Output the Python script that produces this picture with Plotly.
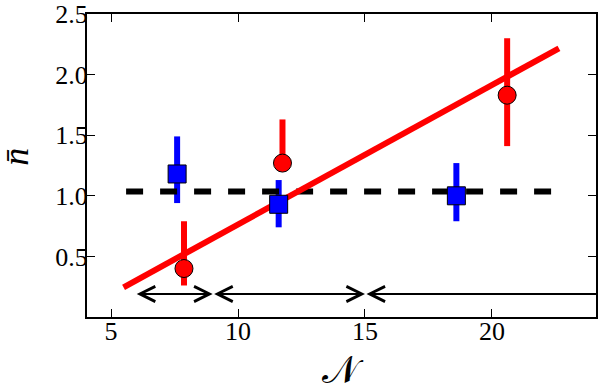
import plotly.graph_objects as go

# measured points
blue_x = [7.6, 11.6, 18.6]
blue_y = [1.18, 0.93, 1.00]
blue_up = [0.31, 0.20, 0.27]
blue_dn = [0.24, 0.19, 0.21]

red_x = [7.87, 11.75, 20.6]
red_y = [0.40, 1.27, 1.83]
red_up = [0.39, 0.36, 0.47]
red_dn = [0.14, 0.05, 0.42]

# fits
fit_x = [5.49, 22.64]
fit_y = [0.245, 2.217]
flat_x = [5.59, 22.6]
flat_y = [1.035, 1.035]

# ranges shown with arrows at the bottom
arrow_x = [5.95, 9.0, 15.0, 24.1]
arrow_y = 0.19

serif = 'Liberation Serif'
fig = go.Figure()

# error bars first so lines sit on top of them
fig.add_trace(go.Scatter(x=blue_x, y=blue_y, mode='markers', marker=dict(size=0.1, color='rgba(0,0,0,0)'),
                         error_y=dict(type='data', symmetric=False, array=blue_up, arrayminus=blue_dn,
                                      color='#0000ff', thickness=6, width=0), showlegend=False))
fig.add_trace(go.Scatter(x=red_x, y=red_y, mode='markers', marker=dict(size=0.1, color='rgba(0,0,0,0)'),
                         error_y=dict(type='data', symmetric=False, array=red_up, arrayminus=red_dn,
                                      color='#ff0000', thickness=6, width=0), showlegend=False))

fig.add_trace(go.Scatter(x=flat_x, y=flat_y, mode='lines', line=dict(color='black', width=6, dash='17px,17px'),
                         showlegend=False))
fig.add_trace(go.Scatter(x=fit_x, y=fit_y, mode='lines', line=dict(color='#ff0000', width=6), showlegend=False))

fig.add_trace(go.Scatter(x=blue_x, y=blue_y, mode='markers',
                         marker=dict(symbol='square', size=18, color='#0000ff', line=dict(color='black', width=1)),
                         showlegend=False))
fig.add_trace(go.Scatter(x=red_x, y=red_y, mode='markers',
                         marker=dict(symbol='circle', size=18, color='#ff0000', line=dict(color='black', width=1)),
                         showlegend=False))

# double headed arrows between consecutive boundaries
for i in range(len(arrow_x) - 1):
    last = i == len(arrow_x) - 2
    fig.add_annotation(x=arrow_x[i + 1], y=arrow_y, ax=arrow_x[i], ay=arrow_y,
                       xref='x', yref='y', axref='x', ayref='y', text='', showarrow=True,
                       arrowside='start' if last else 'end+start',
                       arrowhead=5, startarrowhead=5, arrowsize=1.5, startarrowsize=1.5,
                       arrowwidth=2, arrowcolor='black', standoff=0, startstandoff=0)

# axis titles placed by hand
fig.add_annotation(text='𝒩', x=0.503, y=-0.175, xref='paper', yref='paper', showarrow=False,
                   xanchor='center', yanchor='middle',
                   font=dict(family='DejaVu Serif', size=38, color='black'))
fig.add_annotation(text='<i>n̄</i>', x=-0.14, y=0.528, xref='paper', yref='paper', showarrow=False,
                   xanchor='center', yanchor='middle', textangle=-90,
                   font=dict(family=serif, size=36, color='black'))

axis = dict(showline=True, linecolor='black', linewidth=2, mirror='allticks', ticks='inside',
            ticklen=8, tickwidth=1, tickcolor='black', showgrid=False, zeroline=False,
            automargin=False, tickfont=dict(family=serif, size=26, color='black'))

fig.update_xaxes(range=[4.05, 24.1], tickvals=[5, 10, 15, 20], ticktext=['5', '10', '15', '20'],
                 ticklabelstandoff=-10, **axis)
fig.update_yaxes(range=[0, 2.5], tickvals=[0.5, 1.0, 1.5, 2.0, 2.5],
                 ticktext=['0.5', '1.0', '1.5', '2.0', '2.5'], ticklabelstandoff=-8, **axis)

fig.update_layout(width=600, height=388, margin=dict(l=87, r=4, t=14, b=71),
                  paper_bgcolor='white', plot_bgcolor='white')
# drop the default body margin so the figure fills the window exactly
fig.write_html('out.html', config={'displayModeBar': False},
               post_script="document.body.style.margin='0';")
